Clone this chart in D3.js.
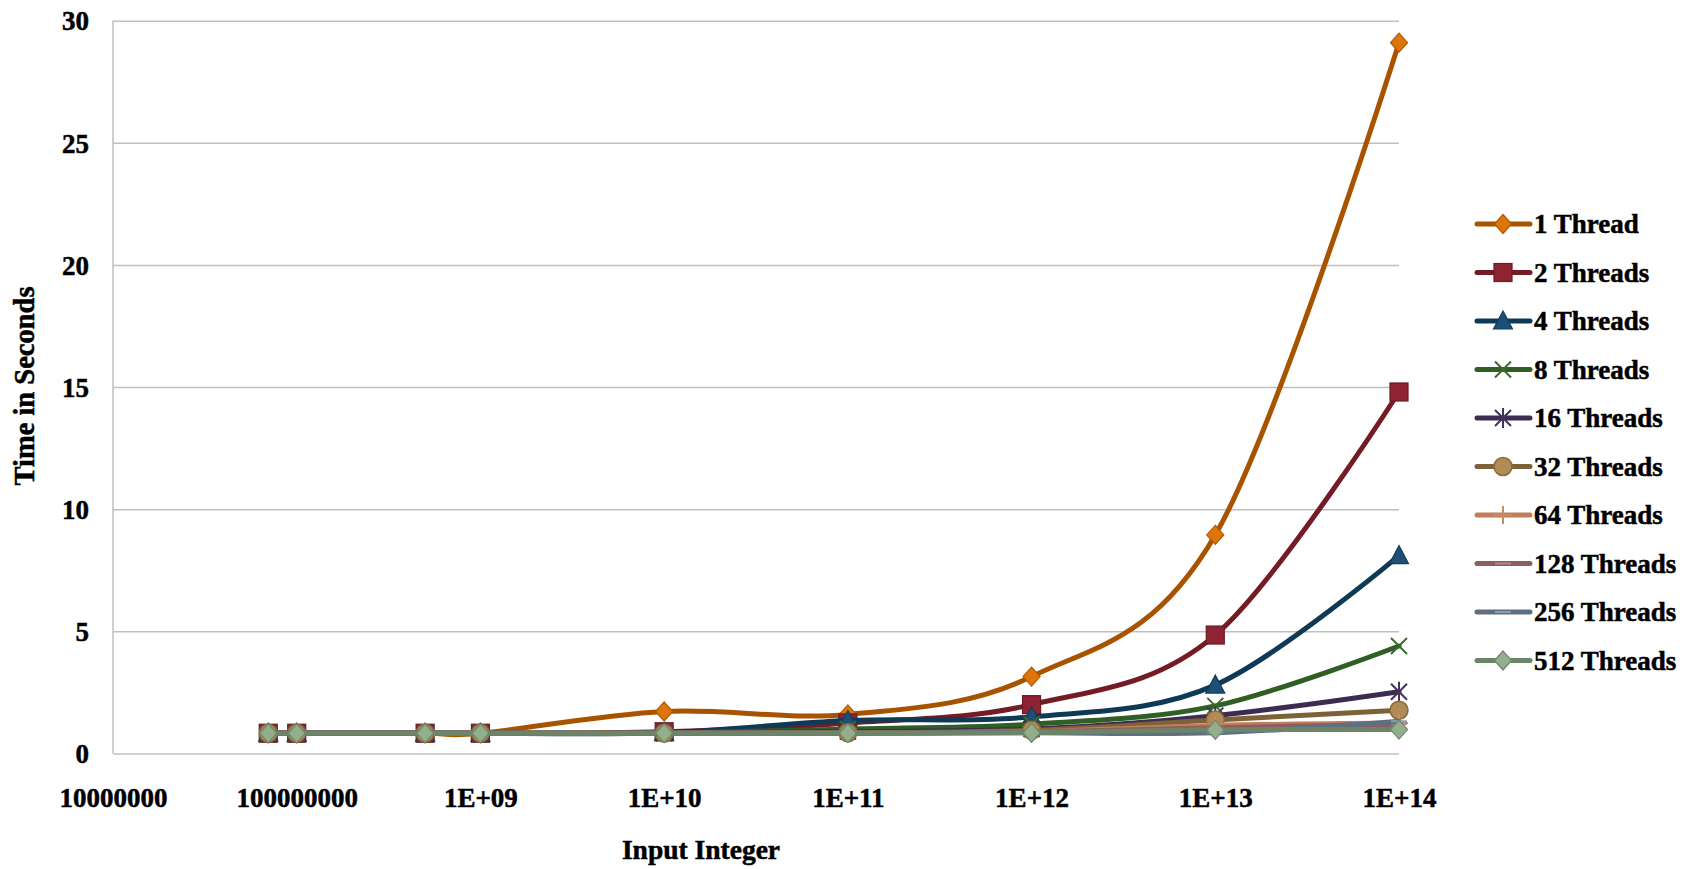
<!DOCTYPE html>
<html>
<head>
<meta charset="utf-8">
<script src="https://cdn.jsdelivr.net/npm/d3@7"></script>
<style>
  html, body { margin: 0; padding: 0; background: #ffffff; }
  svg text { font-family: "Liberation Serif", "DejaVu Serif", serif; font-weight: bold; fill: #000; stroke: #000; stroke-width: 0.5px; }
</style>
</head>
<body>
<svg id="chart" width="1696" height="869"></svg>
<script>
// ---- data ----
const inputs = [7e7, 1e8, 5e8, 1e9, 1e10, 1e11, 1e12, 1e13, 1e14];
const seriesNames = ["1 Thread", "2 Threads", "4 Threads", "8 Threads", "16 Threads",
                     "32 Threads", "64 Threads", "128 Threads", "256 Threads", "512 Threads"];
const t1   = [0.83, 0.83, 0.83, 0.83, 1.72, 1.60, 3.15, 8.95, 29.1];
const t2   = [0.83, 0.83, 0.83, 0.83, 0.89, 1.25, 2.00, 4.85, 14.8];
const t4   = [0.83, 0.83, 0.83, 0.83, 0.85, 1.35, 1.50, 2.80, 8.1];
const t8   = [0.83, 0.83, 0.83, 0.83, 0.84, 1.00, 1.20, 1.95, 4.4];
const t16  = [0.83, 0.83, 0.83, 0.83, 0.84, 0.90, 1.00, 1.55, 2.53];
const t32  = [0.83, 0.83, 0.83, 0.83, 0.83, 0.85, 0.95, 1.37, 1.77];
const t64  = [0.83, 0.83, 0.83, 0.83, 0.83, 0.84, 0.90, 1.15, 1.25];
const t128 = [0.83, 0.83, 0.83, 0.83, 0.83, 0.83, 0.88, 1.05, 1.20];
const t256 = [0.83, 0.83, 0.83, 0.83, 0.83, 0.83, 0.85, 0.85, 1.32];
const t512 = [0.83, 0.83, 0.83, 0.83, 0.83, 0.83, 0.85, 0.97, 0.98];
const seriesValues = [t1, t2, t4, t8, t16, t32, t64, t128, t256, t512];
const xTickValues = [1e7, 1e8, 1e9, 1e10, 1e11, 1e12, 1e13, 1e14];
const xTickLabels = ["10000000", "100000000", "1E+09", "1E+10", "1E+11", "1E+12", "1E+13", "1E+14"];
const yTickValues = [0, 5, 10, 15, 20, 25, 30];

// ---- styles ----
const styles = [
  {line: "#A85300", fill: "#DD760A", stroke: "#B05A04", shape: "diamond"},
  {line: "#751B26", fill: "#8E2333", stroke: "#6E1A24", shape: "square"},
  {line: "#0F3A56", fill: "#1E5077", stroke: "#123E5C", shape: "triangle"},
  {line: "#2F5F24", fill: "none",    stroke: "#3A6B2B", shape: "x"},
  {line: "#3E2B52", fill: "none",    stroke: "#44325A", shape: "star"},
  {line: "#7D6237", fill: "#B08B55", stroke: "#8A6B3B", shape: "circle"},
  {line: "#C17E5C", fill: "none",    stroke: "#C98A6C", shape: "plus"},
  {line: "#8E5E5D", fill: "none",    stroke: "#B48A87", shape: "dash"},
  {line: "#5E6F82", fill: "none",    stroke: "#8A9EB3", shape: "dash"},
  {line: "#6C8468", fill: "#93AE8D", stroke: "#6E8A69", shape: "diamond"}
];

const svg = d3.select("#chart");
const margin = {left: 113, right: 1399, top: 20.7, bottom: 753.5};

const x = d3.scaleLog().domain([1e7, 1e14]).range([margin.left, margin.right]);
const y = d3.scaleLinear().domain([0, 30]).range([margin.bottom, margin.top]);

// gridlines
const yAxis = d3.axisLeft(y).tickValues(yTickValues).tickSize(-(margin.right - margin.left)).tickPadding(24).tickFormat(d3.format("d"));
const gy = svg.append("g").attr("transform", `translate(${margin.left},0)`).call(yAxis);
gy.select(".domain").remove();
gy.selectAll(".tick line").attr("stroke", "#BFBFBF").attr("stroke-width", 1.5);
gy.selectAll(".tick text").attr("font-size", 27).attr("dy", "0.34em");

// vertical axis line
svg.append("line").attr("x1", margin.left).attr("x2", margin.left)
  .attr("y1", margin.top).attr("y2", margin.bottom)
  .attr("stroke", "#BFBFBF").attr("stroke-width", 1.5);

// x axis labels
const xAxis = d3.axisBottom(x).tickValues(xTickValues).tickSize(0).tickPadding(0)
  .tickFormat((d, i) => xTickLabels[i]);
const gx = svg.append("g").attr("transform", `translate(0,${margin.bottom})`).call(xAxis);
gx.select(".domain").remove();
gx.selectAll(".tick text").attr("font-size", 27).attr("y", 53).attr("dy", 0);

// axis titles
svg.append("text").attr("transform", "translate(34,386) rotate(-90)")
  .attr("text-anchor", "middle").attr("font-size", 28.5).text("Time in Seconds");
svg.append("text").attr("x", 701).attr("y", 859)
  .attr("text-anchor", "middle").attr("font-size", 27.5).text("Input Integer");

// marker drawing
function drawMarker(g, shape, st, cx, cy) {
  const s = 9.5;
  if (shape === "diamond") {
    g.append("path").attr("d", `M${cx},${cy - s}L${cx + s * 0.9},${cy}L${cx},${cy + s}L${cx - s * 0.9},${cy}Z`)
      .attr("fill", st.fill).attr("stroke", st.stroke).attr("stroke-width", 1.2);
  } else if (shape === "square") {
    g.append("rect").attr("x", cx - 9).attr("y", cy - 9).attr("width", 18).attr("height", 18)
      .attr("fill", st.fill).attr("stroke", st.stroke).attr("stroke-width", 1.2);
  } else if (shape === "triangle") {
    g.append("path").attr("d", `M${cx},${cy - 10}L${cx + 9.5},${cy + 8}L${cx - 9.5},${cy + 8}Z`)
      .attr("fill", st.fill).attr("stroke", st.stroke).attr("stroke-width", 1.2);
  } else if (shape === "circle") {
    g.append("circle").attr("cx", cx).attr("cy", cy).attr("r", 9)
      .attr("fill", st.fill).attr("stroke", st.stroke).attr("stroke-width", 1.5);
  } else if (shape === "x") {
    g.append("path").attr("d", `M${cx - 8},${cy - 8}L${cx + 8},${cy + 8}M${cx - 8},${cy + 8}L${cx + 8},${cy - 8}`)
      .attr("stroke", st.stroke).attr("stroke-width", 2).attr("fill", "none");
  } else if (shape === "star") {
    g.append("path").attr("d", `M${cx - 8},${cy - 8}L${cx + 8},${cy + 8}M${cx - 8},${cy + 8}L${cx + 8},${cy - 8}M${cx},${cy - 10}L${cx},${cy + 10}`)
      .attr("stroke", st.stroke).attr("stroke-width", 2).attr("fill", "none");
  } else if (shape === "plus") {
    g.append("path").attr("d", `M${cx},${cy - 9}L${cx},${cy + 9}M${cx - 9},${cy}L${cx + 9},${cy}`)
      .attr("stroke", st.stroke).attr("stroke-width", 2).attr("fill", "none");
  } else if (shape === "dash") {
    g.append("path").attr("d", `M${cx - 8},${cy}L${cx + 8},${cy}`)
      .attr("stroke", st.stroke).attr("stroke-width", 2).attr("fill", "none");
  }
}

// series
const line = d3.line().x(d => x(d[0])).y(d => y(d[1])).curve(d3.curveCatmullRom.alpha(0));
const plot = svg.append("g");
seriesValues.forEach((vals, i) => {
  const pts = inputs.map((v, j) => [v, vals[j]]);
  const g = plot.append("g");
  g.append("path").attr("d", line(pts)).attr("fill", "none")
    .attr("stroke", styles[i].line).attr("stroke-width", 5)
    .attr("stroke-linejoin", "round").attr("stroke-linecap", "round");
  pts.forEach(p => drawMarker(g, styles[i].shape, styles[i], x(p[0]), y(p[1])));
});

// legend
const legend = svg.append("g");
seriesNames.forEach((name, i) => {
  const cy = 224 + i * 48.5;
  const g = legend.append("g");
  g.append("line").attr("x1", 1477).attr("x2", 1530).attr("y1", cy).attr("y2", cy)
    .attr("stroke", styles[i].line).attr("stroke-width", 5).attr("stroke-linecap", "round");
  drawMarker(g, styles[i].shape, styles[i], 1503, cy);
  g.append("text").attr("x", 1534).attr("y", cy).attr("dy", "0.34em")
    .attr("font-size", 27).text(name);
});
</script>
</body>
</html>
